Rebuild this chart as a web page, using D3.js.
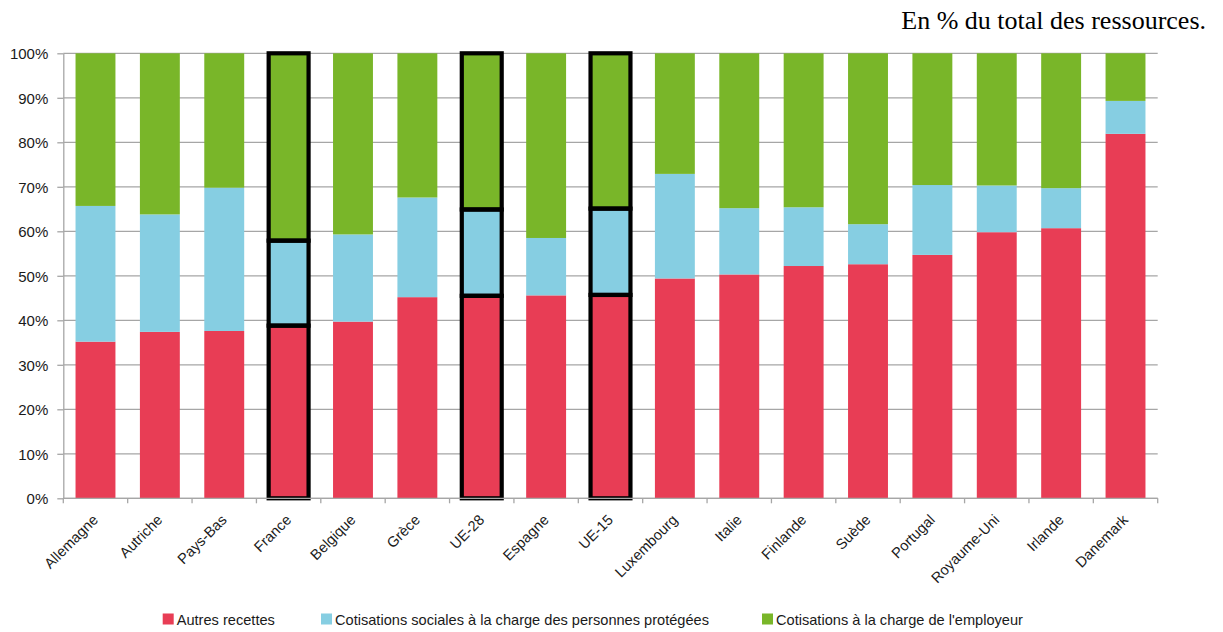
<!DOCTYPE html>
<html lang="fr">
<head>
<meta charset="utf-8">
<script src="https://cdn.jsdelivr.net/npm/d3@7"></script>
<style>
  html, body { margin: 0; padding: 0; background: #fff; }
  svg { display: block; }
  .tick text { font-family: "Liberation Sans", Arial, sans-serif; }
</style>
</head>
<body>
<svg id="chart" width="1223" height="632"></svg>
<script>
// Pays et agrégats, dans l'ordre d'affichage
const categories = ["Allemagne", "Autriche", "Pays-Bas", "France", "Belgique", "Grèce", "UE-28",
  "Espagne", "UE-15", "Luxembourg", "Italie", "Finlande", "Suède", "Portugal",
  "Royaume-Uni", "Irlande", "Danemark"];

// Parts (en % du total des ressources)
const autresRecettes = [35.2, 37.4, 37.6, 38.8, 39.7, 45.2, 45.5, 45.6, 45.7, 49.4, 50.3, 52.2, 52.6, 54.7, 59.8, 60.7, 81.9];
const cotisationsProtegees = [30.5, 26.4, 32.2, 19.1, 19.6, 22.4, 19.4, 12.9, 19.4, 23.5, 14.9, 13.2, 9.0, 15.7, 10.5, 9.0, 7.4];
const cotisationsEmployeur = [34.3, 36.2, 30.2, 42.1, 40.7, 32.4, 35.1, 41.5, 34.9, 27.1, 34.8, 34.6, 38.4, 29.6, 29.7, 30.3, 10.7];

const seriesNames = ["Autres recettes", "Cotisations sociales à la charge des personnes protégées",
  "Cotisations à la charge de l'employeur"];
const yTicks = [0, 10, 20, 30, 40, 50, 60, 70, 80, 90, 100];
const highlighted = ["France", "UE-28", "UE-15"];

const colors = ["#E83D55", "#86CEE2", "#79B629"];
const gridColor = "#A6A6A6";
const fontSans = "'Liberation Sans', Arial, sans-serif";

const svg = d3.select("#chart");

const plot = { left: 63.3, right: 1157.7, top: 53.3, bottom: 498.3 };

const x = d3.scaleBand()
  .domain(categories)
  .range([plot.left, plot.right])
  .paddingInner(0.38)
  .paddingOuter(0.19);

const y = d3.scaleLinear()
  .domain([0, 100])
  .range([plot.bottom, plot.top]);

// Tableau pour l'empilement
const rows = categories.map((c, i) => ({
  cat: c,
  s0: autresRecettes[i],
  s1: cotisationsProtegees[i],
  s2: cotisationsEmployeur[i]
}));
const stacked = d3.stack().keys(["s0", "s1", "s2"])(rows);

// Quadrillage horizontal
svg.append("g")
  .selectAll("line")
  .data(yTicks)
  .join("line")
  .attr("x1", plot.left)
  .attr("x2", plot.right)
  .attr("y1", d => y(d))
  .attr("y2", d => y(d))
  .attr("stroke", gridColor)
  .attr("stroke-width", 1.3);

// Barres empilées
const layers = svg.append("g")
  .selectAll("g")
  .data(stacked)
  .join("g")
  .attr("fill", (d, i) => colors[i]);

layers.selectAll("rect")
  .data(d => d)
  .join("rect")
  .attr("x", d => x(d.data.cat))
  .attr("width", x.bandwidth())
  .attr("y", d => y(d[1]))
  .attr("height", d => y(d[0]) - y(d[1]));

// Contours noirs pour la France et les moyennes européennes
const outlines = svg.append("g");
stacked.forEach(layer => {
  outlines.selectAll(null)
    .data(layer.filter(d => highlighted.includes(d.data.cat)))
    .join("rect")
    .attr("x", d => x(d.data.cat))
    .attr("width", x.bandwidth())
    .attr("y", d => y(d[1]))
    .attr("height", d => y(d[0]) - y(d[1]))
    .attr("fill", "none")
    .attr("stroke", "#000")
    .attr("stroke-width", 4.2);
});

// Axe vertical
const yAxis = svg.append("g")
  .attr("transform", `translate(${plot.left},0)`)
  .call(d3.axisLeft(y).tickValues(yTicks).tickSize(6).tickSizeOuter(0).tickFormat(d => d + "%"));
yAxis.select(".domain").attr("stroke", gridColor).attr("stroke-width", 1.3);
yAxis.selectAll(".tick line").attr("stroke", gridColor).attr("stroke-width", 1.3);
yAxis.selectAll(".tick text")
  .attr("x", -15)
  .attr("dy", "0.35em")
  .attr("fill", "#1a1a1a")
  .style("font-size", "15px");

// Axe horizontal : graduations aux limites des catégories
const xAxisG = svg.append("g");
xAxisG.append("line")
  .attr("x1", plot.left).attr("x2", plot.right)
  .attr("y1", plot.bottom).attr("y2", plot.bottom)
  .attr("stroke", gridColor).attr("stroke-width", 1.3);
const boundaries = categories.map(c => x(c) - x.step() * x.paddingInner() / 2)
  .concat([plot.right]);
xAxisG.selectAll("line.tk")
  .data(boundaries)
  .join("line")
  .attr("class", "tk")
  .attr("x1", d => d).attr("x2", d => d)
  .attr("y1", plot.bottom).attr("y2", plot.bottom + 5)
  .attr("stroke", gridColor).attr("stroke-width", 1.3);

// Libellés inclinés
xAxisG.selectAll("text")
  .data(categories)
  .join("text")
  .attr("transform", d => `translate(${x(d) + x.bandwidth() / 2 + 3.5},${plot.bottom + 22.5}) rotate(-45)`)
  .attr("text-anchor", "end")
  .attr("font-family", fontSans)
  .attr("font-size", "14.6px")
  .attr("fill", "#1a1a1a")
  .text(d => d);

// Légende
const legendX = [162.7, 321, 762];
const legend = svg.append("g");
seriesNames.forEach((name, i) => {
  const g = legend.append("g").attr("transform", `translate(${legendX[i]},613.5)`);
  g.append("rect").attr("width", 11).attr("height", 11).attr("fill", colors[i]);
  g.append("text")
    .attr("x", 14)
    .attr("y", 11)
    .attr("font-family", fontSans)
    .attr("font-size", "14.6px")
    .attr("fill", "#1a1a1a")
    .text(name);
});

// Mention de l'unité
svg.append("text")
  .attr("x", 1206)
  .attr("y", 29)
  .attr("text-anchor", "end")
  .attr("font-family", "'Liberation Serif', 'Times New Roman', serif")
  .attr("font-size", "26px")
  .attr("fill", "#000")
  .text("En % du total des ressources.");
</script>
</body>
</html>
